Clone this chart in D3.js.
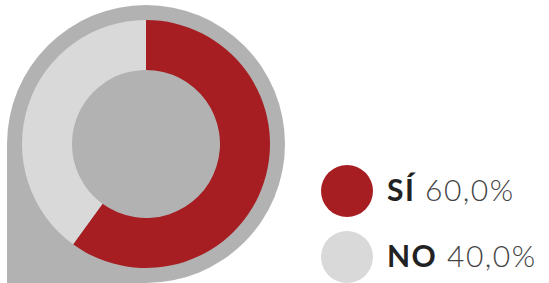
<!DOCTYPE html>
<html>
<head>
<meta charset="utf-8">
<script src="https://cdn.jsdelivr.net/npm/d3@7"></script>
<style>
  body { margin: 0; background: #fff; }
  svg { display: block; }
</style>
</head>
<body>
<svg id="chart" width="549" height="283"></svg>
<script>
const categories = ["SÍ", "NO"];
const values = [60, 40];
const labels = ["60,0%", "40,0%"];
const colors = ["#a61e22", "#d9d9d9"];

const svg = d3.select("#chart");
const cx = 146, cy = 144;
const bubbleR = 139;

// gray pin shape behind the donut
const bubble = svg.append("g").attr("fill", "#b2b2b2");
bubble.append("circle").attr("cx", cx).attr("cy", cy).attr("r", bubbleR);
bubble.append("rect")
    .attr("x", cx - bubbleR).attr("y", cy)
    .attr("width", bubbleR).attr("height", bubbleR);

const pie = d3.pie().sort(null).value(d => d);
const arc = d3.arc().innerRadius(74).outerRadius(124);

svg.append("g")
    .attr("transform", `translate(${cx},${cy})`)
  .selectAll("path")
  .data(pie(values))
  .join("path")
    .attr("d", arc)
    .attr("fill", (d, i) => colors[i]);

// legend
const legend = svg.append("g")
  .selectAll("g")
  .data(categories)
  .join("g")
    .attr("transform", (d, i) => `translate(347,${191 + i * 66})`);

legend.append("circle")
    .attr("r", 26)
    .attr("fill", (d, i) => colors[i]);

const txt = legend.append("text")
    .attr("x", 40)
    .attr("y", 10)
    .style("font-family", "Lato, 'Open Sans', sans-serif")
    .style("font-size", "30px")
    .style("letter-spacing", "1.5px")
    .attr("fill", "#222");

txt.append("tspan")
    .style("font-weight", 700)
    .text(d => d);
txt.append("tspan")
    .style("font-weight", 300)
    .attr("fill", "#444")
    .text((d, i) => " " + labels[i]);
</script>
</body>
</html>
